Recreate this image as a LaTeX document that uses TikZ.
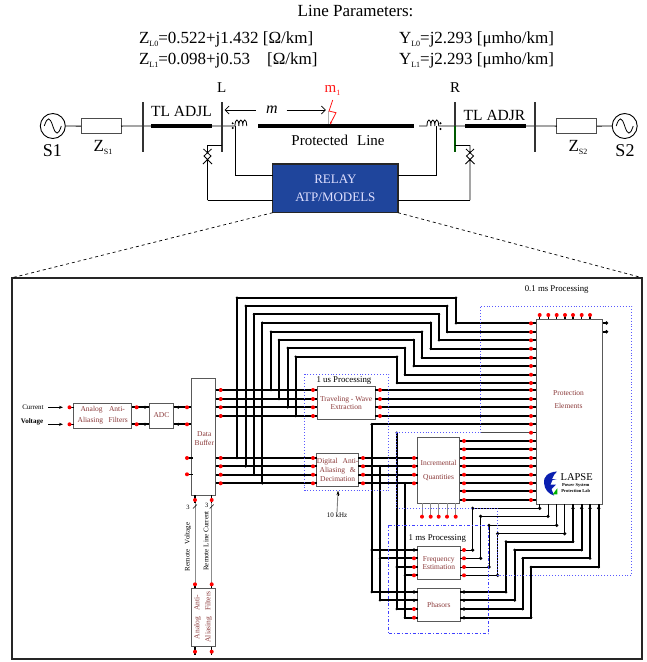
\documentclass[tikz,border=0pt]{standalone}
\usepackage{fontspec}
\setmainfont{Liberation Serif}
\usepackage{xcolor}
\usetikzlibrary{arrows.meta}
\definecolor{blocktext}{HTML}{8B3A3A}
\definecolor{relayblue}{HTML}{1F459C}
\definecolor{logoblue}{HTML}{0A1FB0}
\newcommand{\fsize}[2]{\fontsize{#1}{#2}\selectfont}
\newcommand{\subsc}[1]{\raisebox{-3pt}{\fsize{8}{8}#1}}
\newcommand{\coil}[1]{\draw[sig] (#1,126) .. controls +(0,-8) and +(0,-8) .. ++(3.9,0) .. controls +(0,-8) and +(0,-8) .. ++(3.9,0) .. controls +(0,-8) and +(0,-8) .. ++(3.9,0);}
\newcommand{\ptsym}[1]{\draw[sig] (#1,145) -- (#1,149) (#1,163) -- (#1,200) (#1-4,149) -- (#1+3.5,156) -- (#1-4.5,164) (#1+4,149) -- (#1-3.5,156) -- (#1+4.5,164) (#1,149) -- (#1,151.5) (#1,160) -- (#1,163);}
\newcommand{\wave}[1]{\draw[sig] (#1) ++(-8.5,0) .. controls +(3,-9.5) and +(-3,-9.5) .. ++(8.5,0) .. controls +(3,9.5) and +(-3,9.5) .. ++(8.5,0);}
\begin{document}
\begin{tikzpicture}[x=1pt,y=-1pt,>={Stealth[length=4pt]},line cap=butt,
  sig/.style={black,line width=0.8pt},
  bus/.style={black,line width=2pt},
  tline/.style={black,line width=3.6pt},
  busbar/.style={black!80,line width=1.8pt},
  block/.style={draw=black!65,fill=white,line width=0.9pt,inner sep=0pt,outer sep=0pt,align=center,text=blocktext,font=\fsize{7.5}{9}},
  lbl/.style={inner sep=0pt,outer sep=0pt,font=\fsize{17}{17}},
  tiny lbl/.style={inner sep=0pt,outer sep=0pt,font=\fsize{7}{8}},
  proc/.style={inner sep=0pt,outer sep=0pt,font=\fsize{8.8}{9}},
  region/.style={draw=blue!65,line width=0.9pt,dotted},
  reddot/.style={fill=red},
  blackdot/.style={fill=black}]
\useasboundingbox (0,0) rectangle (647,662);

\node[lbl] (params) at (355.5,11) {Line Parameters:};
\node[lbl,anchor=west] (zl0) at (139,39) {Z\subsc{L0}=0.522+j1.432 [Ω/km]};
\node[lbl,anchor=west] (zl1) at (139,60) {Z\subsc{L1}=0.098+j0.53\hspace{1em}[Ω/km]};
\node[lbl,anchor=west] (yl0) at (399,39) {Y\subsc{L0}=j2.293 [μmho/km]};
\node[lbl,anchor=west] (yl1) at (399,60) {Y\subsc{L1}=j2.293 [μmho/km]};
\node[lbl,font=\fsize{15}{15}] (labl) at (221.8,88) {L};
\node[lbl,font=\fsize{15}{15}] (labr) at (455,88) {R};
\node[lbl,text=red!90,font=\fsize{15}{15}] (labm) at (332.5,90) {m\subsc{1}};

\node[circle,draw,line width=0.9pt,minimum size=25pt,inner sep=0pt] (s1) at (52.8,126) {};
\node[circle,draw,line width=0.9pt,minimum size=25pt,inner sep=0pt] (s2) at (624.7,126) {};
\wave{s1.center}
\wave{s2.center}
\node[draw=black!70,line width=0.9pt,minimum width=40pt,minimum height=15pt,inner sep=0pt,outer sep=0pt] (zs1) at (101,126.2) {};
\node[draw=black!70,line width=0.9pt,minimum width=40pt,minimum height=15pt,inner sep=0pt,outer sep=0pt] (zs2) at (576.9,126.2) {};
\node[lbl,font=\fsize{18}{18}] (ls1) at (52.4,151) {S1};
\node[lbl,font=\fsize{18}{18}] (ls2) at (625,151) {S2};
\node[lbl] (lzs1) at (103,147) {Z\subsc{S1}};
\node[lbl] (lzs2) at (578,147) {Z\subsc{S2}};
\node[lbl,font=\fsize{15.5}{16}] (ladjl) at (181.5,111) {TL ADJL};
\node[lbl,font=\fsize{15.5}{16}] (ladjr) at (494.5,115) {TL ADJR};
\node[lbl,font=\fsize{15}{15}] (lprot) at (338,140) {Protected\hspace{0.35em} Line};
\node[lbl,font=\itshape\fsize{16}{16}] (labmm) at (272,110) {m};

\coordinate (busa) at (142.7,126);
\coordinate (busl) at (221.7,126);
\coordinate (busr) at (455.3,126);
\coordinate (busb) at (534.8,126);
\draw[sig] (s1) -- (zs1);
\draw[sig] (zs1) -- (busa) -- (busl) -- (235,126);
\draw[sig] (419,126) -- (427,126) (438.7,126) -- (busr) -- (busb) -- (zs2);
\draw[sig] (zs2) -- (s2);
\draw[busbar] (busa |- 0,102) -- (busa |- 0,152);
\draw[busbar] (busl |- 0,102) -- (busl |- 0,152);
\draw[busbar] (busr |- 0,102) -- (busr |- 0,126);
\draw[busbar,green!35!black] (busr |- 0,126) -- (busr |- 0,152);
\draw[busbar] (busb |- 0,102) -- (busb |- 0,152);
\draw[tline] (151.3,126) -- (212.4,126);
\draw[tline] (258.3,126) -- (414.4,126);
\draw[tline] (465,126) -- (525.8,126);
\coil{235}
\coil{427}
\fill (232.7,123.3) circle (1.1pt) (232.7,128) circle (1.1pt) (440.5,123.3) circle (1.1pt) (440.5,129) circle (1.1pt);

\node[draw=black!85,line width=1.4pt,fill=relayblue,minimum width=125.3pt,minimum height=48.7pt,inner sep=0pt,outer sep=0pt,text=blue!12,align=center,font=\fsize{13}{18.7}] (relay) at (335.35,188.35) {RELAY\\ATP/MODELS};
\draw[sig] (235.7,126) |- (relay.west |- 0,175.7);
\draw[sig] (436.7,126) |- (relay.east |- 0,175.7);
\draw[sig] (busl |- 0,145) -- (207.5,145);
\draw[sig] (busr |- 0,145) -- (470,145);
\ptsym{207.5}
\ptsym{470}
\draw[sig] (207.5,200) -- (relay.west |- 0,200);
\draw[sig] (470,200) -- (relay.east |- 0,200);

\draw[{Straight Barb[length=4pt]}-,line width=0.7pt] (224.7,110) -- (255.7,110);
\draw[-{Straight Barb[length=4pt]},line width=0.7pt] (286.6,110) -- (325.8,110);
\draw[black!30,line width=0.8pt] (328.3,111) -- (328.3,124);
\draw[red!90,line width=0.8pt,-{Stealth[length=3pt]}] (332.7,100) -- (329,111) -- (336,112.7) -- (330,124.5);

\node[draw=black!85,line width=1.8pt,minimum width=629.7pt,minimum height=381pt,inner sep=0pt,outer sep=0pt] (frame) at (327.15,468.2) {};
\draw[dashed,line width=0.7pt] (relay.south west) -- (frame.north west);
\draw[dashed,line width=0.7pt] (relay.south east) -- (frame.north east);

\node[block,minimum width=58pt,minimum height=25pt,font=\fsize{7.5}{11}] (aaf) at (102.7,415.5) {Analog\hspace{0.6em} Anti-\\Aliasing\hspace{0.5em} Filters};
\node[block,minimum width=24.4pt,minimum height=25pt] (adc) at (161.5,415.5) {ADC};
\node[block,minimum width=24.7pt,minimum height=116.7pt] (dbuf) at (203.35,436.65) {\\[-1pt]\ Data\\\ Buffer};
\node[block,minimum width=24.7pt,minimum height=58.4pt] (raaf) at (203.35,617.5) {};
\node[text=blocktext,rotate=90,inner sep=0pt,align=center,font=\fsize{7.5}{11}] (raaft) at (203,617) {Analog\hspace{0.6em} Anti-\\Aliasing\hspace{0.6em} Filters};
\node[block,minimum width=58.3pt,minimum height=33pt,font=\fsize{7.5}{8.2}] (tw) at (346.15,402.8) {Traveling - Wave\\Extraction};
\node[block,minimum width=41.3pt,minimum height=33pt,font=\fsize{7.5}{8.8}] (dad) at (337.65,470.2) {Digital\hspace{0.4em} Anti-\\Aliasing\hspace{0.4em} \&\\Decimation};
\node[block,minimum width=42pt,minimum height=65.8pt,font=\fsize{7.5}{13.7}] (inc) at (438.5,470.4) {Incremental\\Quantities};
\node[block,minimum width=42.5pt,minimum height=32.3pt,font=\fsize{7.5}{8.2}] (freq) at (438.75,562.85) {Frequency\\Estimation};
\node[block,minimum width=42.5pt,minimum height=32.7pt] (phasors) at (438.75,604.65) {Phasors};
\node[block,minimum width=66.5pt,minimum height=184.7pt] (prot) at (569.25,411.65) {};
\node[inner sep=0pt,text=blocktext,align=center,font=\fsize{7.5}{12.7}] (prott) at (568.5,399.7) {Protection\\Elements};

\node[tiny lbl] (cur) at (33,407) {Current};
\node[tiny lbl,font=\bfseries\fsize{7}{8}] (volt) at (32,422) {Voltage};
\coordinate (curin) at (63,407.3);
\coordinate (voltin) at (63,424.3);
\draw[->,line width=0.6pt] (48,407.3) -- (curin);
\draw[->,line width=0.6pt] (48,424.3) -- (voltin);

\foreach \y in {407.3,424.3} {
  \draw[line width=1.2pt] (69.5,\y) -- (aaf.west |- 0,\y);
  \draw[bus] (aaf.east |- 0,\y) -- (adc.west |- 0,\y);
  \draw[bus] (adc.east |- 0,\y) -- (dbuf.west |- 0,\y);
  \fill[reddot] (69.5,\y) circle (2pt) (136.7,\y) circle (2pt) (187,\y) circle (2pt);
  \fill[blackdot] (145,\y) circle (1.6pt) (178.3,\y) circle (1.6pt);
}
\foreach \y in {458,474.3} {
  \draw[line width=1.2pt] (187,\y) -- (193,\y);
  \fill[reddot] (187,\y) circle (2pt);
}

\foreach \x in {195,211.7} {
  \draw[black!45,line width=0.9pt] (\x,503) -- (\x,584.3);
  \draw[line width=1.2pt] (\x,495) -- (\x,503) (\x,584.3) -- (\x,588.3) (\x,646.7) -- (\x,654.5);
  \draw[line width=0.5pt] (\x-2,508.5) -- (\x+2,504.5);
  \fill[reddot] (\x,500) circle (2pt) (\x,584.3) circle (2pt) (\x,651.7) circle (2pt);
}
\node[tiny lbl,font=\fsize{6.5}{7}] (three a) at (188,507.7) {3};
\node[tiny lbl,font=\fsize{6.5}{7}] (three b) at (206.7,505.5) {3};
\node[tiny lbl,rotate=90] (remv) at (188,547) {Remote\hspace{0.5em} Voltage};
\node[tiny lbl,rotate=90] (remi) at (206,541) {Remote Line Current};

\foreach \y in {390,399,407.3,416} {
  \draw[bus] (dbuf.east |- 0,\y) -- (tw.west |- 0,\y);
  \draw[bus] (tw.east |- 0,\y) -- (prot.west |- 0,\y);
  \fill[reddot] (220.7,\y) circle (2pt) (313,\y) circle (2pt) (380,\y) circle (2pt);
}
\foreach \y in {458,466.3,474.7,483.3} {
  \draw[bus] (dbuf.east |- 0,\y) -- (dad.west |- 0,\y);
  \draw[bus] (dad.east |- 0,\y) -- (inc.west |- 0,\y);
  \fill[reddot] (220.7,\y) circle (2pt) (313,\y) circle (2pt) (363,\y) circle (2pt) (414,\y) circle (2pt);
}
\foreach \yb/\xa/\ya/\xb/\yc in {390/271/331.7/422/357.7,399/279/340/413.7/366,407.3/287.7/348/405/374.7,416/295.7/356.7/397/383,458/237/297.7/456/323.3,466.3/245.7/306/447.3/332,474.7/254/314.3/439/340.3,483.3/262.3/322.7/430.7/348.7} {
  \draw[bus] (\xa,\yb) |- (\xb,\ya) |- (prot.west |- 0,\yc);
  \fill[blackdot] (\xa,\yb) circle (1.4pt) (\xa,\ya) circle (1.4pt) (\xb,\ya) circle (1.4pt) (\xb,\yc) circle (1.4pt);
}
\foreach \y in {441,449.3,458,466.3,474.7,483.3,491.3,500} {
  \draw[bus] (inc.east |- 0,\y) -- (prot.west |- 0,\y);
  \fill[reddot] (464,\y) circle (2pt);
}
\draw[bus] (371.7,424.3) -- (prot.west |- 0,424.3);
\draw[black!70,line width=1pt] (480.7,432.7) -- (prot.west |- 0,432.7);
\foreach \y in {323.3,332,340.3,348.7,357.7,366,374.7,383,390,399,407.3,416,424.3,432.7,441,449.3,458,466.3,474.7,483.3,491.3,500} {
  \draw[line width=1.2pt] (531,\y) -- (prot.west |- 0,\y);
  \fill[reddot] (531,\y) circle (2pt);
}
\foreach \x/\ytop/\ya/\yb in {371.7/424.3/550/592,380/466.3/558.3/600.3,396.7/432.7/567/609,405/483.3/575.3/617.7} {
  \draw[bus] (\x,\ytop) |- (phasors.west |- 0,\yb);
  \draw[bus] (\x,\ya) -- (freq.west |- 0,\ya);
  \fill[blackdot] (\x,\ytop) circle (1.4pt) (\x,\ya) circle (1.4pt) (\x,\yb) circle (1.4pt);
}
\fill[blackdot] (414,550) circle (1.8pt) (414,592) circle (1.8pt) (414,600.3) circle (1.8pt);
\fill[reddot] (414,558.3) circle (2pt) (414,567) circle (2pt) (414,575.3) circle (2pt) (414,609) circle (2pt) (414,617.7) circle (2pt);

\foreach \x in {422,430.7,438.7,447,455.7} {
  \draw[black!45,line width=0.9pt] (\x,503.3) -- (\x,516.7);
  \fill[reddot] (\x,516.7) circle (2pt);
}
\foreach \x in {539.7,548.3,556.7,565,573,581.7,590} {
  \draw[line width=1.2pt] (\x,315) -- (\x,319.3);
  \fill[reddot] (\x,315) circle (2pt);
}
\foreach \y in {323,331.7} {
  \draw[bus] (prot.east |- 0,\y) -- (607,\y);
  \fill[blackdot] (606.5,\y) circle (1.8pt);
}

\foreach \ya/\xa/\yb/\xb in {550/472.7/508.3/539.7,558.3/480.7/516.3/548,567/489/525.3/556.7,575.3/497.7/533.7/564.7} {
  \draw[sig] (freq.east |- 0,\ya) -| (\xa,\yb) -| (\xb,504);
  \fill[reddot] (464,\ya) circle (2pt);
  \fill[blackdot] (\xa,\ya) circle (1.8pt) (\xa,\yb) circle (1.8pt) (\xb,\yb) circle (1.8pt);
}
\foreach \ya/\xa/\yb/\xb in {592/506/541.7/573,600.3/514.7/550/581.7,609/522.7/558.3/590,617.7/531/567/598.7} {
  \draw[bus] (phasors.east |- 0,\ya) -| (\xa,\yb) -| (\xb,504);
  \fill[blackdot] (464,\ya) circle (1.8pt) (\xa,\ya) circle (1.5pt) (\xa,\yb) circle (1.5pt) (\xb,\yb) circle (1.5pt) (\xb,508.3) circle (1.8pt);
}

\draw[region] (304.7,374.3) rectangle (388.7,490.7);
\draw[region] (480.7,306.3) -- (631.7,306.3) -- (631.7,575.3) -- (497.5,575.3) -- (497.5,508.3) -- (396.7,508.3) -- (396.7,432.7) -- (480.7,432.7) -- cycle;
\draw[draw=blue!75,line width=0.8pt,dash dot] (388.3,525.3) rectangle (488.3,633.7);
\node[proc] (lbus) at (344,381) {1 us Processing};
\node[proc] (lbms) at (556.7,289.3) {0.1 ms Processing};
\node[proc] (lbmsa) at (437.3,539) {1 ms Processing};

\coordinate (tenin) at (338,491);
\node[tiny lbl] (tenk) at (337,515) {10 kHz};
\draw[black!50,line width=0.9pt] (tenin) -- (tenk.north);
\draw[->,line width=0.6pt] (338,496) -- (tenin);

\fill[logoblue] (557,471.5) .. controls (548,472) and (543,477) .. (544,483) .. controls (544.5,490) and (549,494) .. (554,495.5) -- (551.5,489) -- (556,484.5) -- (550.5,484.5) -- (552.5,480) -- (557,479) -- (552,479) .. controls (553,476) and (555,473.5) .. (557,471.5) -- cycle;
\fill[green!70!black] (552.7,494.3) -- (557.3,488.3) -- (557.3,494.3) -- cycle;
\node[inner sep=0pt,font=\fsize{10.5}{11}] (lapse) at (576.7,477.3) {LAPSE};
\node[inner sep=0pt,font=\bfseries\fsize{4.5}{5}] (lapsea) at (575.8,485) {Power System};
\node[inner sep=0pt,font=\bfseries\fsize{4.5}{5}] (lapseb) at (575.8,491.2) {Protection Lab};
\end{tikzpicture}
\end{document}
